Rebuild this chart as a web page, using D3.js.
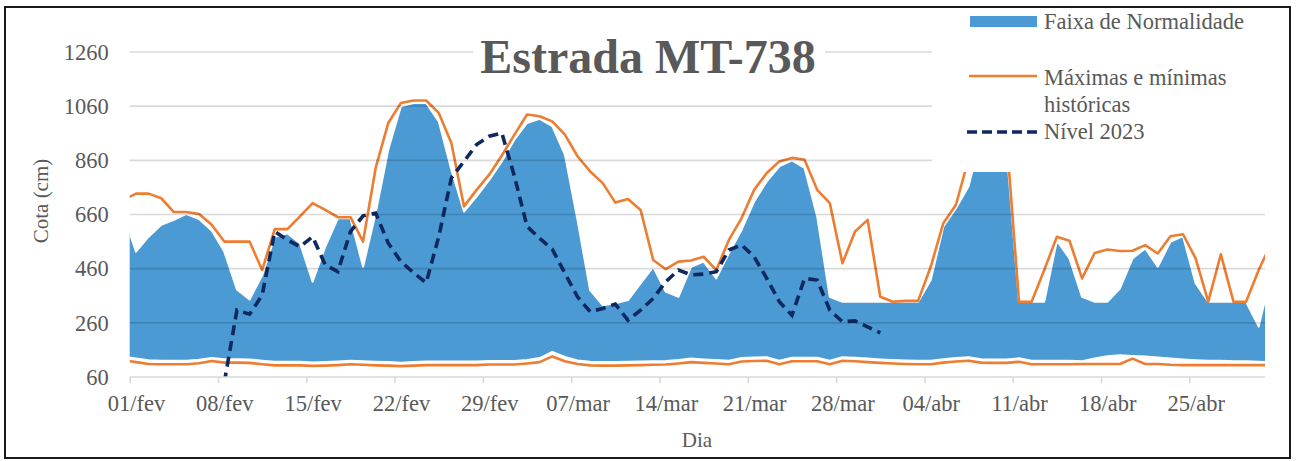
<!DOCTYPE html>
<html>
<head>
<meta charset="utf-8">
<script src="https://cdn.jsdelivr.net/npm/d3@7"></script>
<style>
  body { margin: 0; background: #fff; }
  svg text { font-family: "Liberation Serif", "Times New Roman", serif; fill: #595959; }
</style>
</head>
<body>
<svg id="chart" width="1297" height="461"></svg>
<script>
// um ponto por dia, de 31/jan a 01/mai (ao meio-dia)
const firstDay = new Date(2024, 0, 31, 12);

const maxHist = [714,737,737,720,669,669,662,622,560,560,560,455,606,606,653,702,
  677,650,650,560,832,998,1072,1081,1081,1035,924,690,751,807,878,
  955,1029,1023,1004,955,875,819,776,704,717,677,492,458,486,490,
  504,455,566,646,751,813,856,869,862,751,702,480,597,640,356,
  338,341,341,467,628,696,865,1000,1050,950,338,338,455,578,563,
  424,518,531,525,526,547,516,580,587,498,338,513,338,338,455,555];

const minHist = [122,115,108,107,107,107,111,119,113,113,112,107,103,103,103,101,
  102,104,107,105,103,102,100,102,104,104,104,104,104,106,106,
  106,110,115,136,118,108,103,102,102,103,104,105,106,110,115,
  112,110,107,117,119,120,107,118,118,118,107,120,118,115,112,
  110,108,107,107,113,117,120,113,112,112,116,107,107,107,107,
  108,108,108,108,128,108,108,105,104,104,104,104,104,104,104,104];

const faixaSup = [660,523,578,622,640,662,643,601,523,383,346,436,578,591,554,412,
  541,646,646,467,665,900,1060,1072,1072,1004,825,671,727,788,856,
  937,998,1013,986,881,640,381,325,332,344,406,467,375,356,467,
  486,424,517,603,708,782,838,860,832,653,356,338,338,338,338,
  338,338,338,418,616,683,764,950,1000,910,338,338,338,563,498,
  356,338,338,387,498,535,467,559,580,406,338,338,338,338,246,444];

const faixaInf = [135,128,122,120,120,120,124,130,126,126,125,120,116,116,116,114,
  115,117,120,118,116,115,113,115,117,117,117,117,117,119,119,
  119,123,130,153,134,121,116,115,115,116,117,118,119,123,128,
  125,123,120,130,132,133,120,131,131,131,120,133,131,128,125,
  123,121,120,120,126,130,133,126,125,125,129,120,120,120,120,
  118,128,137,140,138,136,132,128,125,122,120,120,118,118,116,115];

const nivel2023 = [null,null,null,null,null,null,null,null,
  40,307,292,362,597,566,541,578,
  474,449,597,655,665,554,486,445,408,578,795,856,918,949,961,
  801,616,572,532,443,356,301,313,329,270,307,350,412,455,437,
  440,449,529,548,504,424,338,288,424,418,307,264,267,245,223,
  null,null,null,null,null,null,null,null,null,null,null,null,null,null,null,
  null,null,null,null,null,null,null,null,null,null,null,null,null,null,null,null];

const tickLabels = ["01/fev","08/fev","15/fev","22/fev","29/fev","07/mar","14/mar",
  "21/mar","28/mar","04/abr","11/abr","18/abr","25/abr"];
const yTicks = [60,260,460,660,860,1060,1260];

const data = maxHist.map(function(v, i) {
  return { date: d3.timeDay.offset(firstDay, i), max: v, min: minHist[i],
           sup: faixaSup[i], inf: faixaInf[i], nivel: nivel2023[i] };
});

const svg = d3.select("#chart");
const pLeft = 129.7, pRight = 1265, pTop = 52, pBottom = 377;

const x = d3.scaleTime()
  .domain([new Date(2024, 1, 1), new Date(2024, 4, 1)])
  .range([pLeft, pRight]);
const y = d3.scaleLinear().domain([60, 1260]).range([pBottom, pTop]);

const tickDates = tickLabels.map(function(_, i) { return d3.timeDay.offset(new Date(2024, 1, 1), i * 7); });
const halfDay = x(new Date(2024, 1, 1, 12)) - x(new Date(2024, 1, 1));

// moldura
svg.append("rect")
  .attr("x", 5).attr("y", 7).attr("width", 1285).attr("height", 451)
  .attr("fill", "#fff").attr("stroke", "#1a1a1a").attr("stroke-width", 2);

svg.append("clipPath").attr("id", "plot")
  .append("rect").attr("x", pLeft).attr("y", pTop - 2).attr("width", pRight - pLeft).attr("height", pBottom - pTop + 2);

const plot = svg.append("g").attr("clip-path", "url(#plot)");

// faixa de normalidade
const area = d3.area()
  .x(function(d) { return x(d.date); })
  .y0(function(d) { return y(d.inf); })
  .y1(function(d) { return y(d.sup); });

plot.append("path")
  .datum(data)
  .attr("d", area)
  .attr("fill", "#4B9AD3")
  .attr("stroke", "#fff")
  .attr("stroke-width", 2)
  .attr("stroke-linejoin", "round");

// linhas de grade por cima
svg.append("g")
  .selectAll("line")
  .data(yTicks.slice(1))
  .enter().append("line")
  .attr("x1", pLeft).attr("x2", pRight)
  .attr("y1", function(d) { return y(d); })
  .attr("y2", function(d) { return y(d); })
  .attr("stroke", "#000").attr("stroke-opacity", 0.15).attr("stroke-width", 1.6);

// máximas e mínimas
const lineMax = d3.line().x(function(d) { return x(d.date); }).y(function(d) { return y(d.max); });
const lineMin = d3.line().x(function(d) { return x(d.date); }).y(function(d) { return y(d.min); });
[lineMax, lineMin].forEach(function(l) {
  plot.append("path").datum(data).attr("d", l)
    .attr("fill", "none").attr("stroke", "#ED7D31").attr("stroke-width", 2.6)
    .attr("stroke-linejoin", "round");
});

// nível 2023
const lineNivel = d3.line()
  .defined(function(d) { return d.nivel != null; })
  .x(function(d) { return x(d.date); })
  .y(function(d) { return y(d.nivel); });

plot.append("path").datum(data).attr("d", lineNivel)
  .attr("fill", "none").attr("stroke", "#0F2860").attr("stroke-width", 3.6)
  .attr("stroke-dasharray", "10,6");

// eixo X
const xAxis = d3.axisBottom(x)
  .tickValues(tickDates)
  .tickSize(6)
  .tickPadding(12)
  .tickFormat(function(_, i) { return tickLabels[i]; });

const gx = svg.append("g")
  .attr("transform", "translate(0," + pBottom + ")")
  .call(xAxis);
gx.select(".domain").attr("stroke", "#d9d9d9").attr("stroke-width", 1.6).attr("d", "M" + pLeft + ",0H" + pRight);
gx.selectAll(".tick line").attr("stroke", "#d9d9d9").attr("stroke-width", 1.6);
gx.selectAll(".tick text")
  .attr("x", halfDay)
  .style("font-family", "Liberation Serif")
  .style("font-size", "22.5px")
  .attr("fill", "#595959");

// eixo Y
const yAxis = d3.axisLeft(y).tickValues(yTicks).tickFormat(d3.format("d")).tickSize(0).tickPadding(21);
const gy = svg.append("g")
  .attr("transform", "translate(" + pLeft + ",0)")
  .call(yAxis);
gy.select(".domain").remove();
gy.selectAll(".tick text")
  .style("font-family", "Liberation Serif")
  .style("font-size", "22.5px")
  .attr("fill", "#595959");

// títulos dos eixos
svg.append("text")
  .attr("transform", "translate(48,201) rotate(-90)")
  .attr("text-anchor", "middle")
  .style("font-size", "21px")
  .text("Cota (cm)");

svg.append("text")
  .attr("x", 697).attr("y", 447)
  .attr("text-anchor", "middle")
  .style("font-size", "21px")
  .text("Dia");

// título
svg.append("rect").attr("x", 473).attr("y", 28).attr("width", 352).attr("height", 52).attr("fill", "#fff");
svg.append("text")
  .attr("x", 648).attr("y", 72.5)
  .attr("text-anchor", "middle")
  .style("font-size", "48px")
  .style("font-weight", "bold")
  .text("Estrada MT-738");

// legenda
svg.append("rect").attr("x", 932).attr("y", 8).attr("width", 357).attr("height", 164).attr("fill", "#fff");
const lg = svg.append("g");
lg.append("rect").attr("x", 970).attr("y", 16).attr("width", 67).attr("height", 11).attr("fill", "#4B9AD3");
lg.append("line").attr("x1", 969).attr("x2", 1037).attr("y1", 76).attr("y2", 76)
  .attr("stroke", "#ED7D31").attr("stroke-width", 2.6);
lg.append("line").attr("x1", 967).attr("x2", 1037).attr("y1", 132).attr("y2", 132)
  .attr("stroke", "#0F2860").attr("stroke-width", 3.6).attr("stroke-dasharray", "10,5");

const legendText = [
  { t: "Faixa de Normalidade", y: 29 },
  { t: "Máximas e mínimas", y: 85 },
  { t: "históricas", y: 112 },
  { t: "Nível 2023", y: 139 }
];
lg.selectAll("text.leg")
  .data(legendText)
  .enter().append("text")
  .attr("class", "leg")
  .attr("x", 1044)
  .attr("y", function(d) { return d.y; })
  .style("font-size", "22.5px")
  .text(function(d) { return d.t; });
</script>
</body>
</html>
